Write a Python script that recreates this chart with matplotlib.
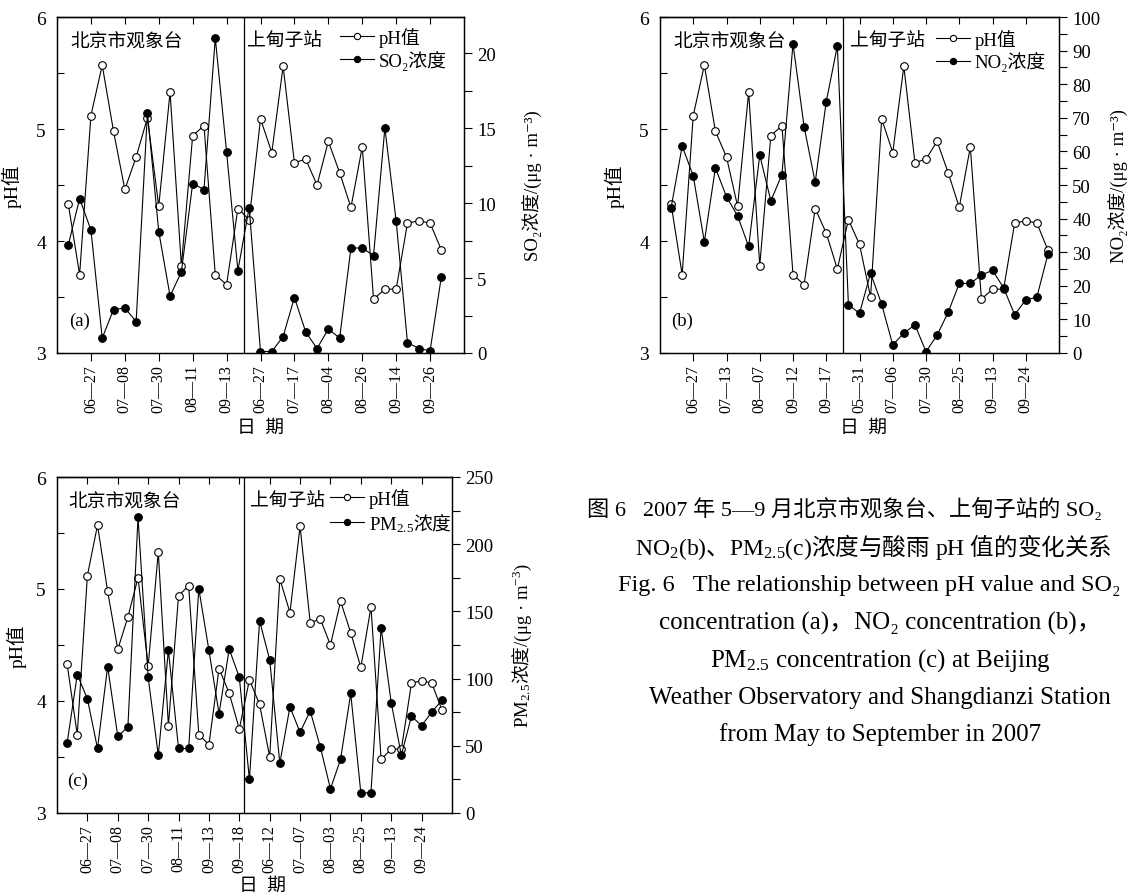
import numpy as np
import matplotlib
matplotlib.use('Agg')
import matplotlib.pyplot as plt
from matplotlib.ticker import MultipleLocator
from matplotlib.lines import Line2D

plt.rcParams['font.family'] = ['Liberation Serif', 'Noto Sans CJK SC', 'DejaVu Serif']
plt.rcParams['axes.unicode_minus'] = False
# PM2.5 的下标用 mathtext 排，汉字放在 \mathsf 里走黑体
plt.rcParams['mathtext.fontset'] = 'custom'
plt.rcParams['mathtext.rm'] = 'Liberation Serif'
plt.rcParams['mathtext.it'] = 'Liberation Serif:italic'
plt.rcParams['mathtext.bf'] = 'Liberation Serif:bold'
plt.rcParams['mathtext.sf'] = 'Noto Sans CJK SC'

W, H = 1128, 895

# (a) pH 与 SO2，北京市观象台 16 次、上甸子站 18 次
ph_a_bj = [4.33, 3.70, 5.12, 5.57, 4.98, 4.46, 4.75, 5.10, 4.31, 5.33, 3.78, 4.94, 5.03, 3.70, 3.61, 4.29]
ph_a_sdz = [4.19, 5.09, 4.79, 5.56, 4.70, 4.73, 4.50, 4.89, 4.61, 4.30, 4.84, 3.48, 3.57, 3.57, 4.16, 4.18, 4.16, 3.92]
so2_bj = [7.2, 10.3, 8.2, 1.0, 2.9, 3.0, 2.1, 16.0, 8.1, 3.8, 5.4, 11.3, 10.9, 21.0, 13.4, 5.5]
so2_sdz = [9.7, 0.1, 0.1, 1.1, 3.7, 1.4, 0.3, 1.6, 1.0, 7.0, 7.0, 6.5, 15.0, 8.8, 0.7, 0.3, 0.15, 5.1]
dates_a = ['06—27', '07—08', '07—30', '08—11', '09—13',
           '06—27', '07—17', '08—04', '08—26', '09—14', '09—26']

# (b) pH 与 NO2，北京市观象台 16 次、上甸子站 19 次
ph_b_bj = [4.33, 3.70, 5.12, 5.57, 4.98, 4.75, 4.31, 5.33, 3.78, 4.94, 5.03, 3.70, 3.61, 4.29, 4.07, 3.75]
ph_b_sdz = [4.19, 3.97, 3.50, 5.09, 4.79, 5.56, 4.70, 4.73, 4.89, 4.61, 4.30, 4.84, 3.48, 3.57, 3.57,
            4.16, 4.18, 4.16, 3.92]
no2_bj = [43.2, 61.6, 52.7, 33.1, 55.1, 46.5, 40.8, 31.7, 58.9, 45.3, 53.1, 92.0, 67.4, 50.8, 74.8, 91.4]
no2_sdz = [14.4, 11.8, 23.8, 14.5, 2.4, 5.9, 8.4, 0.4, 5.3, 12.1, 20.7, 20.7, 23.2, 24.6, 19.4, 11.4,
           15.8, 16.6, 29.4]
dates_b = ['06—27', '07—13', '08—07', '09—12', '09—17',
           '05—31', '07—06', '07—30', '08—25', '09—13', '09—24']

# (c) pH 与 PM2.5，北京市观象台 18 次、上甸子站 20 次
ph_c_bj = [4.33, 3.70, 5.12, 5.57, 4.98, 4.46, 4.75, 5.10, 4.31, 5.33, 3.78, 4.94, 5.03, 3.70, 3.61,
           4.29, 4.07, 3.75]
ph_c_sdz = [4.19, 3.97, 3.50, 5.09, 4.79, 5.56, 4.70, 4.73, 4.50, 4.89, 4.61, 4.30, 4.84, 3.48, 3.57,
            3.57, 4.16, 4.18, 4.16, 3.92]
pm_bj = [52, 103, 85, 48, 109, 57, 64, 220, 101, 43, 121, 48, 48, 167, 121, 74, 122, 101]
pm_sdz = [25, 143, 114, 37, 79, 60, 76, 49, 18, 40, 89, 15, 15, 138, 82, 43, 72, 65, 75, 84]
dates_c = ['06—27', '07—08', '07—30', '08—11', '09—13', '09—18',
           '06—12', '07—07', '08—03', '08—25', '09—13', '09—24']

PM = r'PM$_{\mathrm{2.5}}$'
PM_CN = r'PM$_{\mathrm{2.5}}\mathsf{浓度}$'

caption_cn = [
    '图 6   2007 年 5—9 月北京市观象台、上甸子站的 SO₂',
    r'NO$_{\mathrm{2}}$(b)$\mathsf{、}$PM$_{\mathrm{2.5}}$(c)$\mathsf{浓度与酸雨}$ pH $\mathsf{值的变化关系}$',
]
caption_en = [
    'Fig. 6   The relationship between pH value and SO₂',
    'concentration (a)，NO₂ concentration (b)，',
    PM + ' concentration (c) at Beijing',
    'Weather Observatory and Shangdianzi Station',
    'from May to September in 2007',
]

FS = 13.5


def px_axes(fig, left, top, right, bottom):
    return fig.add_axes([left / W, 1 - bottom / H, (right - left) / W, (bottom - top) / H])


def draw_panel(ax, ph_bj, ph_sdz, c_bj, c_sdz, dates, xmax, cmax, cstep,
               clabel, lname, tag, ylab_x, clab_x, leg_x, leg_y, xlab_x, xlab_y, sdz_x, tag_x):
    ph = ph_bj + ph_sdz
    conc = c_bj + c_sdz
    x = np.arange(len(ph))
    ticks = np.arange(2, len(ph), 3)

    ax2 = ax.twinx()
    ax.plot(x, ph, '-o', color='k', lw=0.8, ms=5.5, mfc='white', mec='k', mew=0.8, zorder=3)
    ax2.plot(x, conc, '-o', color='k', lw=0.8, ms=5.5, mfc='k', mec='k', mew=0.8, zorder=3)
    ax.axvline(len(ph_bj) - 0.5, color='k', lw=0.9)

    ax.set_xlim(-1, xmax)
    ax.set_ylim(3, 6)
    ax.yaxis.set_major_locator(MultipleLocator(1))
    ax.yaxis.set_minor_locator(MultipleLocator(0.5))
    ax.set_xticks(ticks)
    ax.set_xticklabels(dates[:len(ticks)])
    ax.tick_params(axis='x', direction='out', length=6, width=0.8, labelsize=11.5,
                   labelrotation=90, pad=2)
    ax.tick_params(axis='y', which='both', direction='in', length=5, width=0.8,
                   labelsize=14, pad=8)
    top = ax.secondary_xaxis('top')
    top.set_xticks(ticks)
    top.set_xticklabels([])
    top.tick_params(direction='in', length=5, width=0.8)

    ax2.set_ylim(0, cmax)
    ax2.yaxis.set_major_locator(MultipleLocator(cstep))
    ax2.yaxis.set_minor_locator(MultipleLocator(cstep / 2))
    ax2.tick_params(axis='y', which='both', direction='out', length=6, width=0.8,
                    labelsize=FS, pad=3.5)

    for a in (ax, ax2, top):
        for s in a.spines.values():
            s.set_linewidth(0.9)

    ax.set_ylabel('pH值', fontsize=14)
    ax.yaxis.set_label_coords(ylab_x, 0.5)
    ax2.set_ylabel(clabel, fontsize=FS)
    ax2.yaxis.set_label_coords(clab_x, 0.5)

    ax.text(xlab_x, xlab_y, '日  期', transform=ax.transAxes, ha='center', va='center', fontsize=FS)
    ax.text(tag_x, 0.926, '北京市观象台', transform=ax.transAxes, ha='left', va='center', fontsize=FS)
    ax.text(sdz_x, 0.926, '上甸子站', transform=ax.transAxes, ha='left', va='center', fontsize=FS)
    ax.text(tag_x - 0.004, 0.096, tag, transform=ax.transAxes, ha='left', va='center', fontsize=FS)

    h1 = Line2D([], [], color='k', lw=0.8, marker='o', ms=4.5, mfc='white', mec='k', mew=0.8)
    h2 = Line2D([], [], color='k', lw=0.8, marker='o', ms=4.5, mfc='k', mec='k', mew=0.8)
    ax2.legend([h1, h2], ['pH值', lname], loc='upper left', bbox_to_anchor=(leg_x, leg_y),
               frameon=False, borderpad=0, borderaxespad=0, handlelength=1.8,
               handletextpad=0.25, labelspacing=0.15, fontsize=FS)


fig = plt.figure(figsize=(W / 100, H / 100), dpi=100)

ax_a = px_axes(fig, 57, 18, 464, 354)
draw_panel(ax_a, ph_a_bj, ph_a_sdz, so2_bj, so2_sdz, dates_a, 35, 22.4, 5,
           'SO₂浓度/(μg · m⁻³)', 'SO₂浓度', '(a)',
           -0.086, 1.145, 0.695, 0.970, 0.501, -0.220, 0.467, 0.034)

ax_b = px_axes(fig, 660, 18, 1059, 354)
draw_panel(ax_b, ph_b_bj, ph_b_sdz, no2_bj, no2_sdz, dates_b, 35, 100, 10,
           'NO₂浓度/(μg · m⁻³)', 'NO₂浓度', '(b)',
           -0.088, 1.125, 0.692, 0.965, 0.511, -0.220, 0.476, 0.033)

ax_c = px_axes(fig, 57, 478, 452, 814)
draw_panel(ax_c, ph_c_bj, ph_c_sdz, pm_bj, pm_sdz, dates_c, 38, 250, 50,
           PM_CN + '/(μg · m$^{-3}$)', PM_CN, '(c)',
           -0.076, 1.148, 0.692, 0.967, 0.52, -0.216, 0.489, 0.029)

# 图题：中文两行左对齐，英文首行左对齐，其余居中
fig.text(587 / W, 1 - 509 / H, caption_cn[0], ha='left', va='center', fontsize=16)
fig.text(635 / W, 1 - 547 / H, caption_cn[1], ha='left', va='center', fontsize=17)
fig.text(618 / W, 1 - 586 / H, caption_en[0], ha='left', va='center', fontsize=17.5)
for y, line in zip([623, 661, 698, 735], caption_en[1:]):
    fig.text(880 / W, 1 - y / H, line, ha='center', va='center', fontsize=18)

fig.savefig('out.png', dpi=100, facecolor='white')
